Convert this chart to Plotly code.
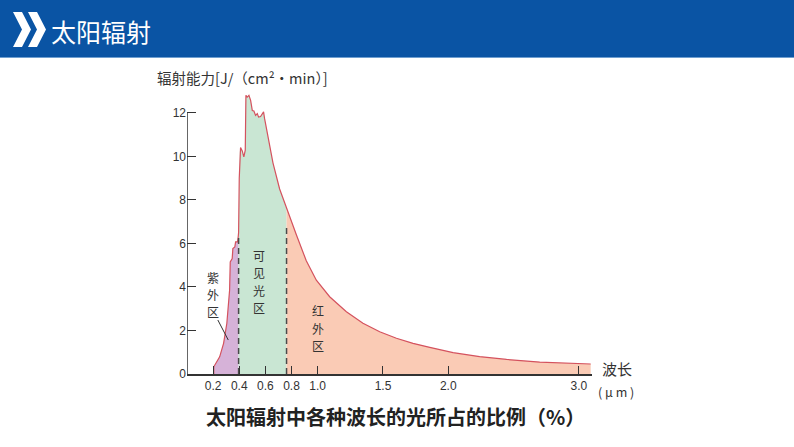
import plotly.graph_objects as go
import numpy as np

# ---- data ----
wavelength = [0.205, 0.205, 0.25, 0.28, 0.305, 0.326, 0.331, 0.346, 0.351, 0.366, 0.372, 0.387, 0.392, 0.395,
              0.400, 0.404, 0.410, 0.423, 0.435, 0.446, 0.451, 0.461, 0.474, 0.487, 0.500, 0.512, 0.525,
              0.538, 0.548, 0.563, 0.576, 0.586, 0.594, 0.607, 0.658, 0.709, 0.762, 0.837, 0.913,
              0.99, 1.092, 1.22, 1.347, 1.475, 1.603, 1.73, 1.858, 1.986, 2.037, 2.24, 2.446,
              2.70, 2.906, 3.09]
energy = [0.0, 0.33, 0.79, 1.41, 2.33, 3.85, 5.15, 5.3, 5.76, 5.84, 6.07, 6.07, 6.3, 6.5,
          9.0, 10.2, 10.4, 10.25, 9.97, 10.28, 12.8, 12.72, 12.8, 12.57, 12.1, 12.08, 11.88,
          11.96, 11.8, 11.83, 11.96, 12.04, 11.73, 11.35, 9.7, 8.5, 7.6, 6.4, 5.2,
          4.31, 3.55, 2.86, 2.33, 1.94, 1.64, 1.41, 1.22, 1.06, 0.98, 0.8, 0.67,
          0.55, 0.49, 0.46]
uv_end = 0.395
vis_end = 0.762
divider_heights = [6.3, 6.8]
x_ticks = [0.2, 0.4, 0.6, 0.8, 1.0, 1.5, 2.0, 3.0]
x_ticktext = ["0.2", "0.4", "0.6", "0.8", "1.0", "1.5", "2.0", "3.0"]
y_ticks = [0, 2, 4, 6, 8, 10, 12]
region_labels = [("紫外区", 0.20, 3.65), ("可见光区", 0.55, 4.25), ("红外区", 1.0, 2.1)]

W, H = 794, 447
ML, MR, MT, MB = 187, 202, 91, 73
XR = [0, 3.1]
YR = [0, 13]


def px(x):
    return (x - ML) / (W - ML - MR)


def py(y):
    return (H - MB - y) / (H - MT - MB)


lam = np.array(wavelength)
val = np.array(energy)

fig = go.Figure()
regions = [
    ((lam <= uv_end), "rgba(214,178,216,1)"),
    ((lam >= uv_end) & (lam <= vis_end), "rgba(201,230,211,1)"),
    ((lam >= vis_end), "rgba(250,203,181,1)"),
]
for mask, col in regions:
    xs = list(lam[mask])
    ys = list(val[mask])
    fig.add_trace(go.Scatter(x=xs + [xs[-1], xs[0]], y=ys + [0, 0], fill="toself", fillcolor=col,
                             line=dict(width=0), mode="lines", hoverinfo="skip", showlegend=False))

fig.add_trace(go.Scatter(x=wavelength, y=energy, mode="lines",
                         line=dict(color="#d4525e", width=1.2), showlegend=False))

for bx, bh in zip([uv_end, vis_end], divider_heights):
    fig.add_trace(go.Scatter(x=[bx, bx], y=[0, bh], mode="lines",
                             line=dict(color="#4a4a4a", width=1.5, dash="6px,4px"), showlegend=False))

shapes = []
shapes.append(dict(type="line", xref="x", yref="y", x0=0, x1=0, y0=0, y1=12,
                   line=dict(color="#333", width=1.5)))
shapes.append(dict(type="line", xref="x", yref="y", x0=0.236, y0=2.48, x1=0.316, y1=1.56,
                   line=dict(color="#333", width=1)))
shapes.append(dict(type="rect", xref="paper", yref="paper", x0=px(0), x1=px(W), y0=py(57), y1=py(0),
                   fillcolor="#0a54a4", line=dict(width=0), layer="below"))
shapes.append(dict(type="rect", xref="paper", yref="paper", x0=px(0), x1=px(W), y0=py(58), y1=py(57),
                   fillcolor="#6f9fd0", line=dict(width=0), layer="below"))
for off in [0, 15]:
    pts = [(13 + off, 12), (22 + off, 12), (31 + off, 29.5), (22 + off, 47), (13 + off, 47), (22 + off, 29.5)]
    path = "M " + " L ".join(f"{px(a):.5f},{py(b):.5f}" for a, b in pts) + " Z"
    shapes.append(dict(type="path", xref="paper", yref="paper", path=path,
                       fillcolor="white", line=dict(width=0)))

font_cjk = "Noto Sans CJK SC"
ann = [
    dict(x=px(49), y=py(31), xref="paper", yref="paper", text="太阳辐射", showarrow=False,
         xanchor="left", yanchor="middle", font=dict(family=font_cjk, size=25, color="white")),
    dict(x=px(155), y=py(77), xref="paper", yref="paper", text="辐射能力[J/（cm²·min）]", showarrow=False,
         xanchor="left", yanchor="middle", font=dict(family=font_cjk, size=14.5, color="#333")),
    dict(x=px(600), y=py(368), xref="paper", yref="paper", text="波长", showarrow=False,
         xanchor="left", yanchor="middle", font=dict(family=font_cjk, size=15, color="#333")),
    dict(x=px(596), y=py(391), xref="paper", yref="paper", text="( μ m )", showarrow=False,
         xanchor="left", yanchor="middle", font=dict(family=font_cjk, size=12.5, color="#333")),
    dict(x=px(395), y=py(416), xref="paper", yref="paper", text="<b>太阳辐射中各种波长的光所占的比例（%）</b>",
         showarrow=False, xanchor="center", yanchor="middle",
         font=dict(family=font_cjk, size=20, color="#222")),
]
# vertical region labels: one character per annotation, stacked
step = 0.8  # data units between characters
for txt, lx, ly in region_labels:
    n = len(txt)
    for i, ch in enumerate(txt):
        ann.append(dict(x=lx, y=ly + (n - 1) / 2 * step - i * step, xref="x", yref="y", text=ch,
                        showarrow=False, xanchor="center", yanchor="middle", borderpad=0,
                        font=dict(family=font_cjk, size=12, color="#333")))

fig.update_layout(
    width=W, height=H, margin=dict(l=ML, r=MR, t=MT, b=MB),
    paper_bgcolor="white", plot_bgcolor="white",
    shapes=shapes, annotations=ann,
    font=dict(family="Liberation Sans, Noto Sans CJK SC", color="#333"),
    xaxis=dict(range=XR, tickvals=x_ticks, ticktext=x_ticktext, ticks="inside", ticklen=8,
               tickcolor="#333", showline=True, linecolor="#333", linewidth=1.5, showgrid=False,
               zeroline=False, tickfont=dict(size=12, color="#333")),
    yaxis=dict(range=YR, tickvals=y_ticks, ticks="inside", ticklen=9, tickcolor="#333",
               showline=False, showgrid=False, zeroline=False, tickfont=dict(size=12, color="#333")),
)

fig.write_html("out.html")
